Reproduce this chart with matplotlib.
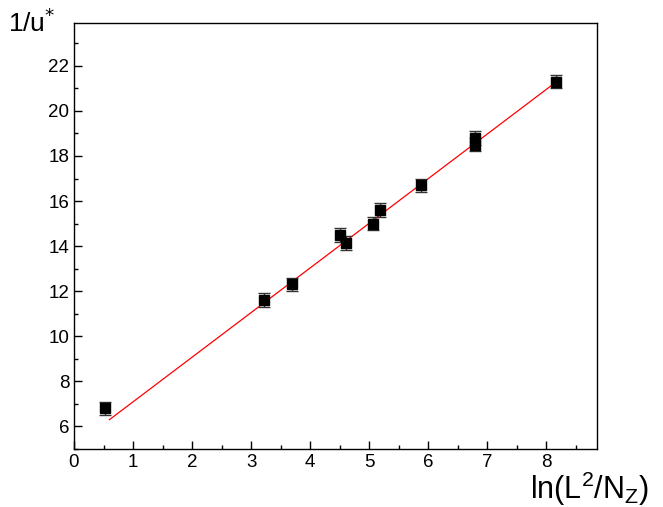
import numpy as np
import matplotlib.pyplot as plt
from matplotlib.ticker import MultipleLocator

plt.rcParams['font.family'] = ['Liberation Sans', 'DejaVu Sans']

# measured points (ln(L^2/N_z), 1/u*)
x_pts = [0.52, 3.22, 3.69, 4.51, 4.61, 5.07, 5.19, 5.88, 6.80, 6.80, 8.17]
y_pts = [6.8, 11.6, 12.3, 14.5, 14.15, 15.0, 15.6, 16.7, 18.8, 18.5, 21.3]
y_err = [0.3, 0.3, 0.3, 0.3, 0.3, 0.3, 0.3, 0.3, 0.3, 0.3, 0.3]

# linear fit endpoints
fit_x = [0.6, 8.2]
fit_y = [6.3, 21.35]

fig = plt.figure(figsize=(6.63, 5.07), dpi=100)
ax = fig.add_axes([0.1116, 0.1144, 0.7889, 0.8402])

ax.plot(fit_x, fit_y, color='red', lw=0.9, zorder=2)
ax.errorbar(x_pts, y_pts, yerr=y_err, fmt='s', color='black', ms=7.5,
            ecolor='#333333', elinewidth=1.0, capsize=4, capthick=1.0, zorder=3)

ax.set_xlim(0, 8.86)
ax.set_ylim(5, 23.9)
ax.xaxis.set_minor_locator(MultipleLocator(0.5))
ax.yaxis.set_minor_locator(MultipleLocator(1))
ax.set_yticks(np.arange(6, 23, 2))
ax.set_xticks(np.arange(0, 9, 1))

ax.tick_params(which='both', direction='in', top=False, right=False, labelsize=13.5)
ax.tick_params(which='major', length=6, width=1)
ax.tick_params(which='minor', length=3, width=1)
for s in ax.spines.values():
    s.set_linewidth(1.0)

fig.text(0.012, 0.955, r'1/u$^{*}$', fontsize=19, va='center', ha='left')
fig.text(0.800, 0.036, r'ln(L$^{\mathregular{2}}$/N$_{\mathregular{Z}}$)',
         fontsize=22, va='center', ha='left')

fig.savefig('out.png', dpi=100)
